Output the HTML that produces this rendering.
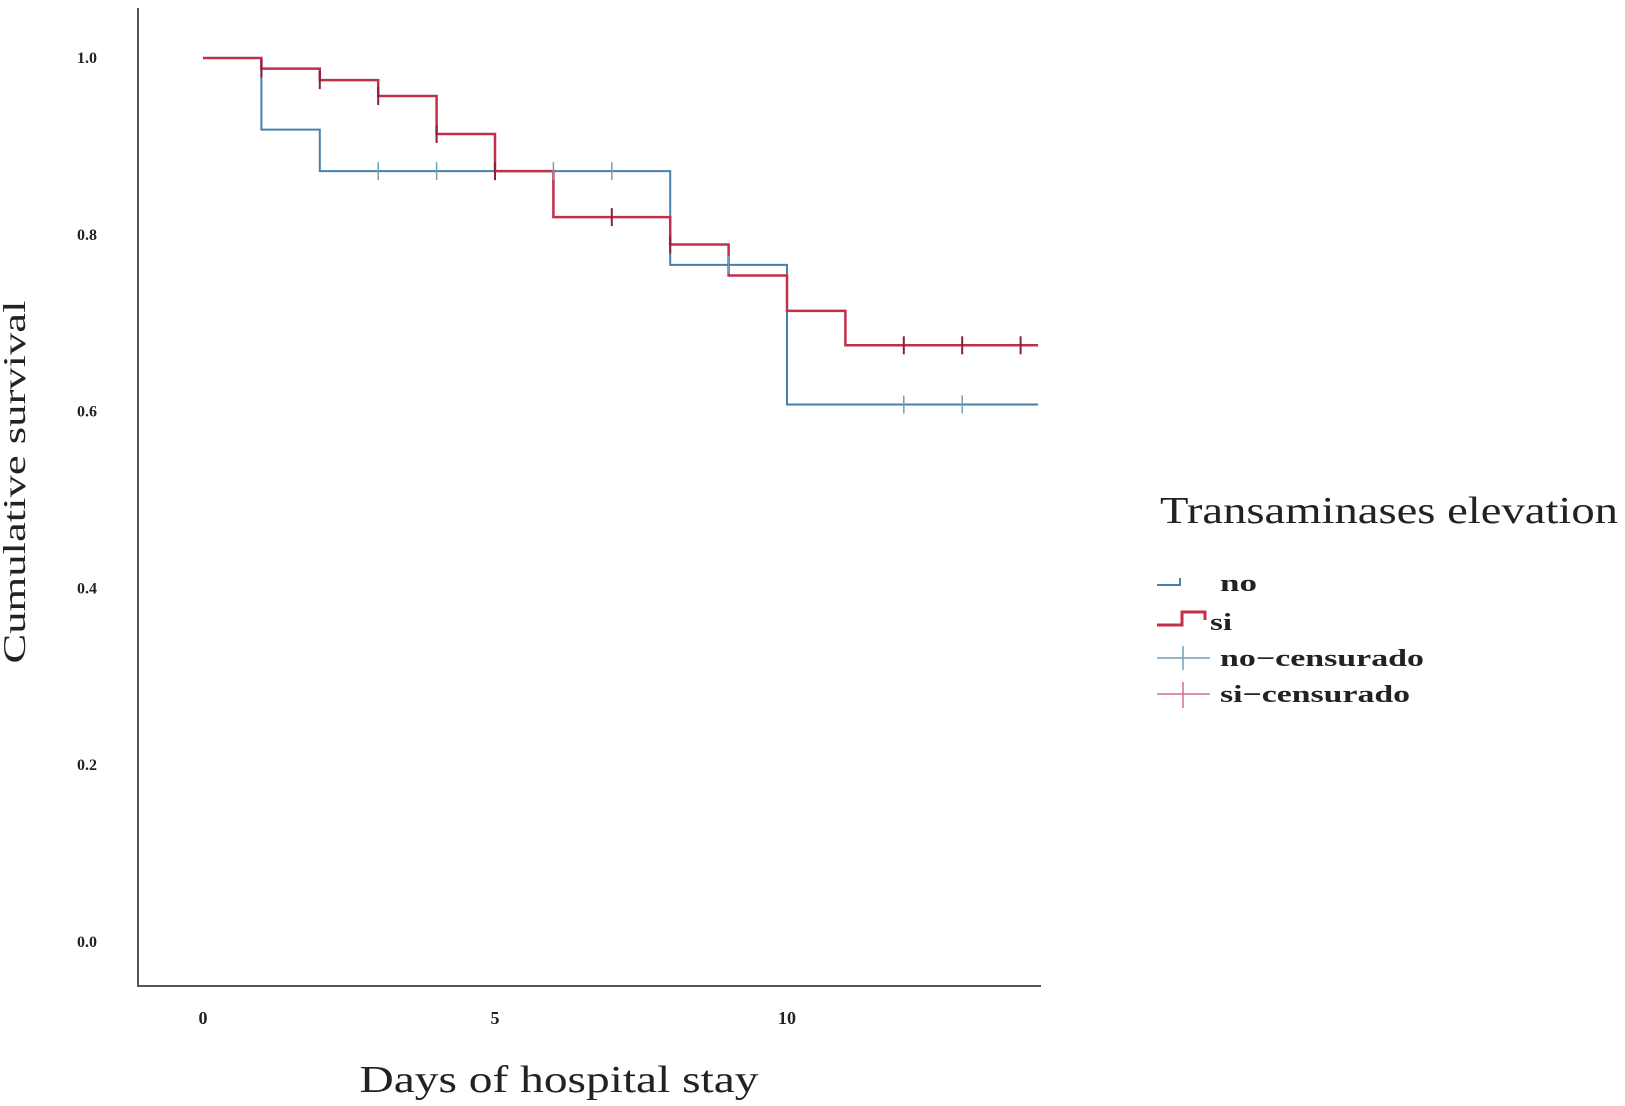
<!DOCTYPE html>
<html><head><meta charset="utf-8"><style>
html,body{margin:0;padding:0;background:#fff;}
svg{display:block;}
text{font-family:"Liberation Serif",serif;fill:#222;}
</style></head><body>
<svg id="chart" width="1625" height="1106" xmlns="http://www.w3.org/2000/svg">
<g id="axes"></g><g id="series"></g>
<text x="25" y="482" font-size="32" text-anchor="middle" textLength="363" lengthAdjust="spacingAndGlyphs" transform="rotate(-90 25 482)">Cumulative survival</text>
<text x="559" y="1092" font-size="38" text-anchor="middle" textLength="399" lengthAdjust="spacingAndGlyphs">Days of hospital stay</text>
<g>
<text x="1160" y="523" font-size="38" textLength="458" lengthAdjust="spacingAndGlyphs">Transaminases elevation</text>
<g><path d="M1157 585 H1180 V578" stroke="#4a7fa8" stroke-width="2" fill="none"/><text x="1220" y="591" font-size="24" font-weight="bold" textLength="37" lengthAdjust="spacingAndGlyphs" font-family="Liberation Sans">no</text></g>
<g><path d="M1157 625 H1182 V612 H1205 V620" stroke="#c0304a" stroke-width="3" fill="none"/><text x="1210" y="630" font-size="24" font-weight="bold" textLength="22" lengthAdjust="spacingAndGlyphs" font-family="Liberation Sans">si</text></g>
<g><path d="M1157 658 H1210 M1183 646 V670" stroke="#6fa0b8" stroke-width="1.5" fill="none"/><text x="1220" y="666" font-size="24" font-weight="bold" textLength="204" lengthAdjust="spacingAndGlyphs" font-family="Liberation Sans">no−censurado</text></g>
<g><path d="M1157 694 H1210 M1183 682 V708" stroke="#d07088" stroke-width="1.5" fill="none"/><text x="1220" y="702" font-size="24" font-weight="bold" textLength="190" lengthAdjust="spacingAndGlyphs" font-family="Liberation Sans">si−censurado</text></g>
</g>
</svg>
<script>
const xTicks=[0,5,10];
const yTicks=[0.0,0.2,0.4,0.6,0.8,1.0];
const yTickLabels=["0.0","0.2","0.4","0.6","0.8","1.0"];
const noTimes=[0,1,2,8,10,14.3];
const noSurv=[1.0,0.919,0.872,0.766,0.608,0.608];
const siTimes=[0,1,2,3,4,5,6,8,9,10,11,14.3];
const siSurv=[1.0,0.988,0.975,0.957,0.914,0.872,0.82,0.789,0.754,0.714,0.675,0.675];
const noCensor=[3,4,6,7,9,12,13];
const siCensor=[1,2,3,4,5,7,8,12,13,14];
const NS="http://www.w3.org/2000/svg";
const X=v=>203+v*58.4;
const Y=v=>942-v*884;
function mk(tag,attrs,parent){const e=document.createElementNS(NS,tag);for(const k in attrs)e.setAttribute(k,attrs[k]);parent.appendChild(e);return e;}
const axes=document.getElementById('axes'),ser=document.getElementById('series');
let a=mk('path',{d:'M138 8 V986 H1041',stroke:'#555','stroke-width':2,fill:'none'},axes);


xTicks.forEach(t=>{const e=mk('text',{x:X(t),y:1024,'font-size':18,'font-weight':'bold','text-anchor':'middle'},axes);e.textContent=t;

});
yTicks.forEach((t,i)=>{const e=mk('text',{x:97,y:Y(t)+5,'font-size':16,'font-weight':'bold','text-anchor':'end'},axes);e.textContent=yTickLabels[i];

});
function stepPath(ts,ss){let d='M'+X(ts[0])+' '+Y(ss[0]);for(let i=1;i<ts.length;i++){d+=' H'+X(ts[i])+' V'+Y(ss[i]);}return d;}
function survAt(ts,ss,t){let v=ss[0];for(let i=0;i<ts.length;i++){if(ts[i]<=t)v=ss[i];}return v;}
let p=mk('path',{d:stepPath(noTimes,noSurv),stroke:'#4a7fa8','stroke-width':2,fill:'none'},ser);


p=mk('path',{d:stepPath(siTimes,siSurv),stroke:'#c0304a','stroke-width':2.5,fill:'none'},ser);


noCensor.forEach(t=>{const y=Y(survAt(noTimes,noSurv,t));const m=mk('path',{d:`M${X(t)} ${y-9} V${y+9}`,stroke:'#6fa0b8','stroke-width':1.5},ser);

});
siCensor.forEach(t=>{const y=Y(survAt(siTimes,siSurv,t));const m=mk('path',{d:`M${X(t)} ${y-9} V${y+9}`,stroke:'#8a2040','stroke-width':2},ser);

});
</script>
</body></html>
